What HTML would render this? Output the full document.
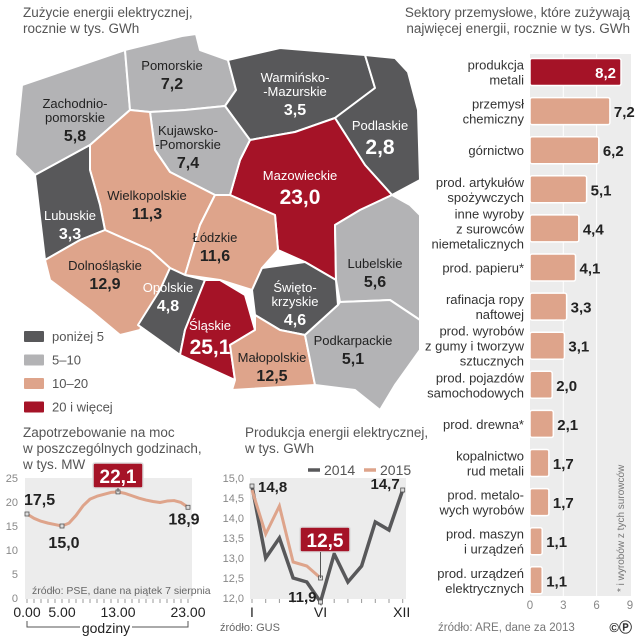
<!DOCTYPE html>
<html><head><meta charset="utf-8"><style>
html,body{margin:0;padding:0;background:#fff}
svg{display:block;font-family:"Liberation Sans",sans-serif}
</style></head><body>
<svg id="svg" width="640" height="640" viewBox="0 0 640 640" xmlns="http://www.w3.org/2000/svg">
<g id="map"></g>
<g id="bars"></g>
<g id="demand"></g>
<g id="prod"></g>
</svg>
<script>
// ---- Map data ----
const regionNames=["Zachodnio-|pomorskie","Pomorskie","Warmińsko-|-Mazurskie","Podlaskie","Mazowieckie","Kujawsko-|-Pomorskie","Wielkopolskie","Lubuskie","Dolnośląskie","Łódzkie","Opolskie","Śląskie","Święto-|krzyskie","Małopolskie","Lubelskie","Podkarpackie"];
const regionValues=[5.8,7.2,3.5,2.8,23.0,7.4,11.3,3.3,12.9,11.6,4.8,25.1,4.6,12.5,5.6,5.1];
// ---- Sector bar data ----
const sectorNames=["produkcja|metali","przemysł|chemiczny","górnictwo","prod. artykułów|spożywczych","inne wyroby|z surowców|niemetalicznych","prod. papieru*","rafinacja ropy|naftowej","prod. wyrobów|z gumy i tworzyw|sztucznych","prod. pojazdów|samochodowych","prod. drewna*","kopalnictwo|rud metali","prod. metalo-|wych wyrobów","prod. maszyn|i urządzeń","prod. urządzeń|elektrycznych"];
const sectorValues=[8.2,7.2,6.2,5.1,4.4,4.1,3.3,3.1,2.0,2.1,1.7,1.7,1.1,1.1];
const sectorTicks=[0,3,6,9];
// ---- Demand data ----
const demandHours=[0,1,2,3,4,5,6,7,8,9,10,11,12,13,14,15,16,17,18,19,20,21,22,23];
const demandValues=[17.5,16.6,16.0,15.6,15.3,15.0,15.6,17.2,19.2,20.6,21.2,21.6,22.0,22.1,21.8,21.3,20.8,20.4,20.1,19.9,20.2,20.3,19.9,18.9];
const demandTicksY=[0,5,10,15,20,25];
const demandTicksX=[0,5,13,23];
// ---- Production data ----
const months=["I","II","III","IV","V","VI","VII","VIII","IX","X","XI","XII"];
const prod2014=[14.8,13.0,13.5,12.5,12.4,11.9,13.1,12.4,12.8,13.9,13.7,14.7];
const prod2015=[14.7,13.6,14.3,12.9,12.8,12.5];
const prodTicksY=[12.0,12.5,13.0,13.5,14.0,14.5,15.0];

const NS="http://www.w3.org/2000/svg";
function mk(tag,attrs,parent,txt){const e=document.createElementNS(NS,tag);for(const k in attrs)e.setAttribute(k,attrs[k]);if(txt!==undefined)e.textContent=txt;parent.appendChild(e);return e;}
const fmt=v=>v.toFixed(1).replace('.',',');
const DARK="#58585a",LIGHT="#b3b3b5",SAL="#dea48b",RED="#a51327";
function col(v){return v<5?DARK:v<10?LIGHT:v<20?SAL:RED;}
const svg=document.getElementById('svg');

function title(lines,x,y,anchor){lines.forEach((l,i)=>{const t=mk('text',{x:x,y:y+i*16,'font-size':13.5,fill:'#555','text-anchor':anchor},svg,l);});}
title(["Zużycie energii elektrycznej,","rocznie w tys. GWh"],23,17,'start');
title(["Sektory przemysłowe, które zużywają","najwięcej energii, rocznie w tys. GWh"],630,17,'end');

// ---- MAP ----
const mapG=document.getElementById('map');
const shapes=[
 [[22,85],[125,50],[130,110],[90,145],[35,175],[15,155]],
 [[125,50],[182,36],[196,34],[200,50],[228,60],[236,90],[225,106],[185,110],[150,112],[130,110]],
 [[228,60],[280,48],[365,55],[375,88],[335,118],[295,132],[250,140],[225,106],[236,90]],
 [[365,55],[395,58],[408,72],[418,110],[420,180],[392,195],[365,165],[335,118],[375,88]],
 [[250,140],[295,132],[335,118],[365,165],[392,195],[360,210],[335,225],[336,280],[305,262],[278,250],[275,215],[230,195],[240,160]],
 [[150,112],[185,110],[225,106],[250,140],[240,160],[230,195],[215,195],[170,172],[155,150]],
 [[90,145],[130,110],[150,112],[155,150],[170,172],[215,195],[200,225],[185,275],[170,268],[150,250],[105,230],[100,205],[90,170]],
 [[35,175],[90,145],[90,170],[100,205],[105,230],[80,240],[45,260]],
 [[45,260],[80,240],[105,230],[150,250],[170,268],[160,290],[140,330],[120,335],[90,310],[50,280]],
 [[215,195],[230,195],[275,215],[278,250],[262,268],[252,290],[220,280],[185,275],[200,225]],
 [[170,268],[185,275],[205,280],[185,330],[180,355],[138,325],[160,290]],
 [[205,280],[220,280],[245,295],[255,330],[230,345],[235,380],[180,355],[185,330]],
 [[252,290],[262,268],[305,262],[336,280],[338,305],[305,335],[280,330],[255,315]],
 [[230,345],[255,330],[255,315],[280,330],[305,335],[315,385],[232,390],[235,380]],
 [[335,225],[360,210],[392,195],[410,205],[420,215],[420,320],[390,300],[340,302],[336,280]],
 [[305,335],[338,305],[340,302],[390,300],[420,320],[420,350],[395,385],[380,410],[355,390],[315,385]]
];
const labelPos=[[75,108],[172,70],[295,82],[380,130],[300,180],[188,135],[147,200],[70,220],[105,270],[215,242],[168,292],[210,330],[295,292],[272,362],[375,268],[353,345]];
shapes.forEach((s,i)=>{
 const p=mk('polygon',{points:s.map(q=>q.join(',')).join(' '),fill:col(regionValues[i]),stroke:'#fff','stroke-width':2,'stroke-linejoin':'round'},mapG);
 
 
});
shapes.forEach((s,i)=>{
 const v=regionValues[i];const dark=(col(v)===DARK||col(v)===RED);
 const tc=dark?'#fff':'#222';const [x,y]=labelPos[i];
 const lines=regionNames[i].split('|');
 lines.forEach((l,j)=>{const t=mk('text',{x:x,y:y+j*14,'font-size':13,fill:tc,'text-anchor':'middle'},mapG,l);});
 const big=(v>20||i===3);
 const t=mk('text',{x:x,y:y+lines.length*14+(big?10:5),'font-size':big?21:16,'font-weight':'bold',fill:tc,'text-anchor':'middle'},mapG,fmt(v));
 
 
});
const legItems=[["poniżej 5",DARK],["5–10",LIGHT],["10–20",SAL],["20 i więcej",RED]];
legItems.forEach((it,i)=>{
 const y=331+i*23.5;
 const r=mk('rect',{x:24,y:y,width:20,height:11,fill:it[1],rx:1},mapG);
 const t=mk('text',{x:52,y:y+10,'font-size':13,fill:'#555'},mapG,it[0]);
});

// ---- BARS ----
const bG=document.getElementById('bars');
const bx0=530,bsc=11.1,by0=72,bstep=39.1,bh=27;
const bx=v=>bx0+v*bsc;
const panel=mk('rect',{x:530,y:54,width:101,height:542,fill:'#ececec'},bG);
sectorTicks.forEach(t=>{
 if(t>0&&t<9){const l=mk('line',{x1:bx(t),x2:bx(t),y1:54,y2:596,stroke:'#fff','stroke-width':1},bG);}
 const tx=mk('text',{x:bx(t),y:609,'font-size':11.5,fill:'#888','text-anchor':'middle'},bG,t);
});
sectorValues.forEach((v,i)=>{
 const cy=by0+i*bstep;
 const r=mk('rect',{x:bx0,y:cy-bh/2,width:v*bsc,height:bh,fill:i===0?RED:SAL,stroke:'#fff','stroke-width':1.5,rx:2},bG);
 
 
 const lines=sectorNames[i].split('|');
 lines.forEach((l,j)=>{const t=mk('text',{x:524,y:cy+5-(lines.length-1)*7.5+j*15,'font-size':13,fill:'#333','text-anchor':'end'},bG,l);});
 const inside=i===0;
 const t=mk('text',{x:inside?bx(v)-5:bx(v)+4,y:cy+6,'font-size':15,'font-weight':'bold',fill:inside?'#fff':'#222','text-anchor':inside?'end':'start'},bG,fmt(v));
 
 
});
const fn=mk('text',{x:0,y:0,'font-size':10,fill:'#777',transform:'translate(624,592) rotate(-90)'},bG,"* i wyrobów z tych surowców");
const src=mk('text',{x:438,y:631,'font-size':11.5,fill:'#777'},bG,"źródło: ARE, dane za 2013");
const cp=mk('text',{x:632,y:632,'font-size':13,'font-weight':'bold',fill:'#333','text-anchor':'end'},bG,"©Ⓟ");

// ---- DEMAND ----
const dG=document.getElementById('demand');
const dx=h=>27+h*7, dy=v=>598-v*4.8;
title(["Zapotrzebowanie na moc","w poszczególnych godzinach,","w tys. MW"],23,437,'start');
const dp=mk('rect',{x:25,y:478,width:167,height:121,fill:'#ececec'},dG);
demandTicksY.forEach(t=>{const tx=mk('text',{x:18,y:dy(t)+4,'font-size':11,fill:'#888','text-anchor':'end'},dG,t);});
demandHours.forEach(h=>{const l=mk('line',{x1:dx(h),x2:dx(h),y1:599,y2:603,stroke:'#999'},dG);});
demandTicksX.forEach(h=>{const t=mk('text',{x:dx(h),y:617,'font-size':14,fill:'#222','text-anchor':'middle'},dG,h.toFixed(2));});
const dl=mk('polyline',{points:demandHours.map((h,i)=>dx(h)+','+dy(demandValues[i])).join(' '),fill:'none',stroke:SAL,'stroke-width':3,'stroke-linejoin':'round'},dG);
[0,5,13,23].forEach(i=>{const c=mk('rect',{x:dx(demandHours[i])-2,y:dy(demandValues[i])-2,width:4,height:4,fill:'#ddd',stroke:'#555','stroke-width':0.8},dG);});
const dLab=[[0,24,-9,'start'],[5,dx(5)+2,22,'middle'],[23,dx(23)-4,17,'middle']];
dLab.forEach(([i,x,off,a])=>{const t=mk('text',{x:x,y:dy(demandValues[i])+off,'font-size':16,'font-weight':'bold',fill:'#222','text-anchor':a},dG,fmt(demandValues[i]));});
const cb=mk('rect',{x:dx(13)-25,y:463,width:50,height:25,fill:RED,stroke:'#ddd','stroke-width':1.5,rx:2},dG);
mk('line',{x1:dx(13),x2:dx(13),y1:488,y2:dy(22.1),stroke:'#555'},dG);
const ct=mk('text',{x:dx(13),y:483,'font-size':19,'font-weight':'bold',fill:'#fff','text-anchor':'middle'},dG,fmt(22.1));
const dsrc=mk('text',{x:32,y:594,'font-size':10.5,fill:'#666'},dG,"źródło: PSE, dane na piątek 7 sierpnia");
mk('path',{d:'M27,621 V627 H80 M132,627 H188 V621',fill:'none',stroke:'#555'},dG);
const gd=mk('text',{x:106,y:633,'font-size':14,fill:'#222','text-anchor':'middle'},dG,"godziny");

// ---- PRODUCTION ----
const pG=document.getElementById('prod');
const px=i=>252+i*13.7, py=v=>598-(v-12)*40;
title(["Produkcja energii elektrycznej,","w tys. GWh"],245,437,'start');
const pp=mk('rect',{x:250,y:478,width:156,height:121,fill:'#ececec'},pG);
prodTicksY.forEach(t=>{const tx=mk('text',{x:244,y:py(t)+4,'font-size':11,fill:'#888','text-anchor':'end'},pG,t.toFixed(1).replace('.',','));});
months.forEach((m,i)=>{const l=mk('line',{x1:px(i),x2:px(i),y1:599,y2:603,stroke:'#999'},pG);
 if(i===0||i===5||i===11){const t=mk('text',{x:px(i)+(i===11?-1:0),y:617,'font-size':14,fill:'#222','text-anchor':'middle'},pG,m);}});
const l14=mk('polyline',{points:prod2014.map((v,i)=>px(i)+','+py(v)).join(' '),fill:'none',stroke:DARK,'stroke-width':3.5,'stroke-linejoin':'miter'},pG);
const l15=mk('polyline',{points:prod2015.map((v,i)=>px(i)+','+py(v)).join(' '),fill:'none',stroke:SAL,'stroke-width':3,'stroke-linejoin':'miter'},pG);
[[0,prod2014[0]],[5,prod2014[5]],[11,prod2014[11]],[5,prod2015[5]]].forEach(([i,v])=>{const c=mk('rect',{x:px(i)-2,y:py(v)-2,width:4,height:4,fill:'#ddd',stroke:'#555','stroke-width':0.8},pG);});
[[0,prod2014[0],258,6,'start'],[5,prod2014[5],px(5)-4,0,'end'],[11,prod2014[11],px(11)-3,-1,'end']].forEach(([i,v,x,off,a])=>{const t=mk('text',{x:x,y:py(v)+off,'font-size':15,'font-weight':'bold',fill:'#222','text-anchor':a},pG,fmt(v));});
const cb2=mk('rect',{x:300,y:527,width:50,height:25,fill:RED,stroke:'#ddd','stroke-width':1.5,rx:2},pG);
mk('line',{x1:px(5),x2:px(5),y1:552,y2:py(prod2015[5]),stroke:'#555'},pG);
const ct2=mk('text',{x:325,y:547,'font-size':19,'font-weight':'bold',fill:'#fff','text-anchor':'middle'},pG,fmt(prod2015[5]));
[["2014",DARK,308],["2015",SAL,364]].forEach(([n,c,x])=>{const l=mk('line',{x1:x,x2:x+12,y1:470,y2:470,stroke:c,'stroke-width':3.5},pG);
 const t=mk('text',{x:x+16,y:475,'font-size':14,fill:'#555'},pG,n);});
const psrc=mk('text',{x:220,y:631,'font-size':11,fill:'#666'},pG,"źródło: GUS");
</script>
</body></html>
